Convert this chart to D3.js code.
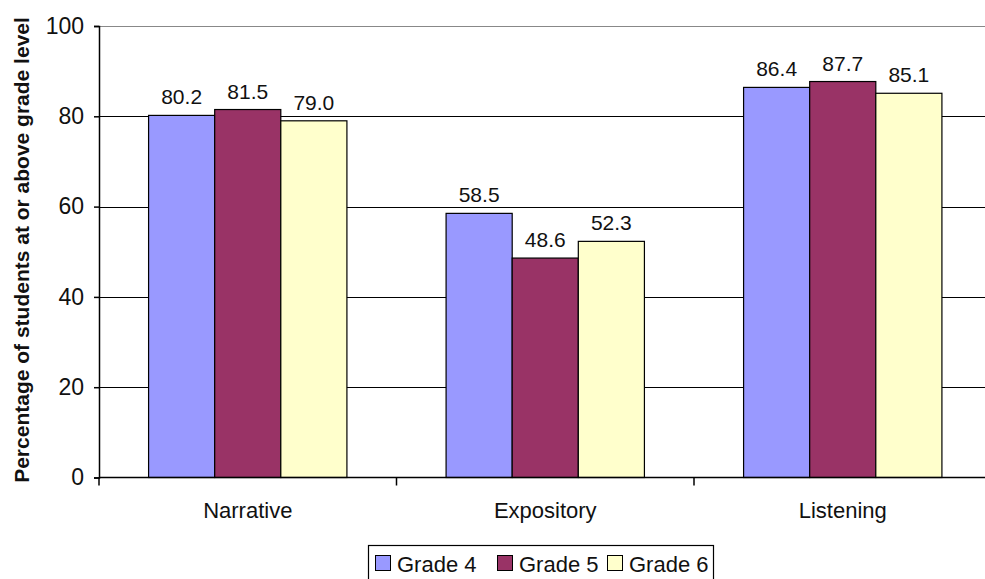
<!DOCTYPE html>
<html>
<head>
<meta charset="utf-8">
<script src="https://cdn.jsdelivr.net/npm/d3@7"></script>
<style>
  body { margin: 0; background: #fff; }
  svg { font-family: "Liberation Sans", Arial, sans-serif; }
</style>
</head>
<body>
<svg id="chart"></svg>
<script>
const categories = ['Narrative', 'Expository', 'Listening'];
const grades = ['Grade 4', 'Grade 5', 'Grade 6'];
const grade4 = [80.2, 58.5, 86.4];
const grade5 = [81.5, 48.6, 87.7];
const grade6 = [79.0, 52.3, 85.1];
const yTicks = [0, 20, 40, 60, 80, 100];
const colors = ['#9999FF', '#993366', '#FFFFCC'];

const width = 985, height = 579;
const margin = { left: 99, top: 26, bottom: 102 };

const svg = d3.select('#chart')
  .attr('width', width)
  .attr('height', height);

const series = [grade4, grade5, grade6];

const x = d3.scaleBand()
  .domain(categories)
  .range([margin.left, 991.5]);

// 3 bars take 2/3 of band, gap is 1/3
const xInner = d3.scaleBand()
  .domain(grades)
  .range([x.bandwidth() / 6, x.bandwidth() * 5 / 6]);

const y = d3.scaleLinear()
  .domain([0, 100])
  .range([height - margin.bottom + 0.5, margin.top]);

// gridlines
svg.append('g')
  .selectAll('line')
  .data(yTicks.filter(d => d > 0))
  .join('line')
  .attr('x1', margin.left)
  .attr('x2', width)
  .attr('y1', d => Math.round(y(d)) + 0.5)
  .attr('y2', d => Math.round(y(d)) + 0.5)
  .attr('stroke', d => d === 100 ? '#888' : '#000')
  .attr('stroke-width', 1.2);

// bars
const groups = svg.append('g')
  .selectAll('g')
  .data(categories)
  .join('g')
  .attr('transform', d => `translate(${x(d)},0)`);

groups.selectAll('rect')
  .data((c, i) => grades.map((g, j) => ({ grade: g, value: series[j][i], j: j })))
  .join('rect')
  .attr('x', d => xInner(d.grade))
  .attr('width', xInner.bandwidth())
  .attr('y', d => y(d.value))
  .attr('height', d => y(0) - y(d.value))
  .attr('fill', d => colors[d.j])
  .attr('stroke', '#000')
  .attr('stroke-width', 1.2);

// value labels
groups.selectAll('text')
  .data((c, i) => grades.map((g, j) => ({ grade: g, value: series[j][i] })))
  .join('text')
  .attr('x', d => xInner(d.grade) + xInner.bandwidth() / 2)
  .attr('y', d => y(d.value) - 11)
  .attr('text-anchor', 'middle')
  .attr('font-size', 21)
  .attr('fill', '#111')
  .text(d => d.value.toFixed(1));

// y axis
const yAxis = svg.append('g')
  .attr('transform', `translate(${margin.left},0)`)
  .call(d3.axisLeft(y).tickValues(yTicks).tickSize(5).tickPadding(10));
yAxis.select('.domain').attr('stroke', '#000').attr('stroke-width', 1.5);
yAxis.selectAll('.tick line').attr('stroke', '#000').attr('stroke-width', 1.5);
yAxis.selectAll('.tick text')
  .attr('font-size', 23)
  .attr('font-family', '"Liberation Sans", Arial, sans-serif')
  .attr('fill', '#111');

// x axis
const xAxis = svg.append('g')
  .attr('transform', `translate(0,${y(0)})`)
  .call(d3.axisBottom(x).tickSize(0).tickPadding(25));
xAxis.select('.domain').remove();
xAxis.append('line')
  .attr('x1', margin.left).attr('x2', width)
  .attr('stroke', '#000').attr('stroke-width', 1.5);
xAxis.selectAll('.sep')
  .data(categories)
  .join('line')
  .attr('class', 'sep')
  .attr('x1', d => x(d)).attr('x2', d => x(d))
  .attr('y1', 0).attr('y2', 8)
  .attr('stroke', '#000').attr('stroke-width', 1.5);
xAxis.selectAll('.tick text')
  .attr('font-size', 22)
  .attr('font-family', '"Liberation Sans", Arial, sans-serif')
  .attr('fill', '#111');

// y axis title
svg.append('text')
  .attr('transform', 'translate(29,250) rotate(-90)')
  .attr('text-anchor', 'middle')
  .attr('font-size', 21)
  .attr('font-weight', 'bold')
  .attr('fill', '#111')
  .text('Percentage of students at or above grade level');

// legend
const legend = svg.append('g').attr('transform', 'translate(368,545)');
legend.append('rect')
  .attr('x', 0.5).attr('y', 0.5)
  .attr('width', 345).attr('height', 40)
  .attr('fill', '#fff')
  .attr('stroke', '#000').attr('stroke-width', 1.2);

const legendX = [7, 129, 239];
const items = legend.selectAll('.item')
  .data(grades)
  .join('g')
  .attr('class', 'item')
  .attr('transform', (d, i) => `translate(${legendX[i]},0)`);
items.append('rect')
  .attr('x', 0.5).attr('y', 10.5)
  .attr('width', 15).attr('height', 15)
  .attr('fill', (d, i) => colors[i])
  .attr('stroke', '#000').attr('stroke-width', 1);
items.append('text')
  .attr('x', 22).attr('y', 27)
  .attr('font-size', 22)
  .attr('fill', '#111')
  .text(d => d);
</script>
</body>
</html>
